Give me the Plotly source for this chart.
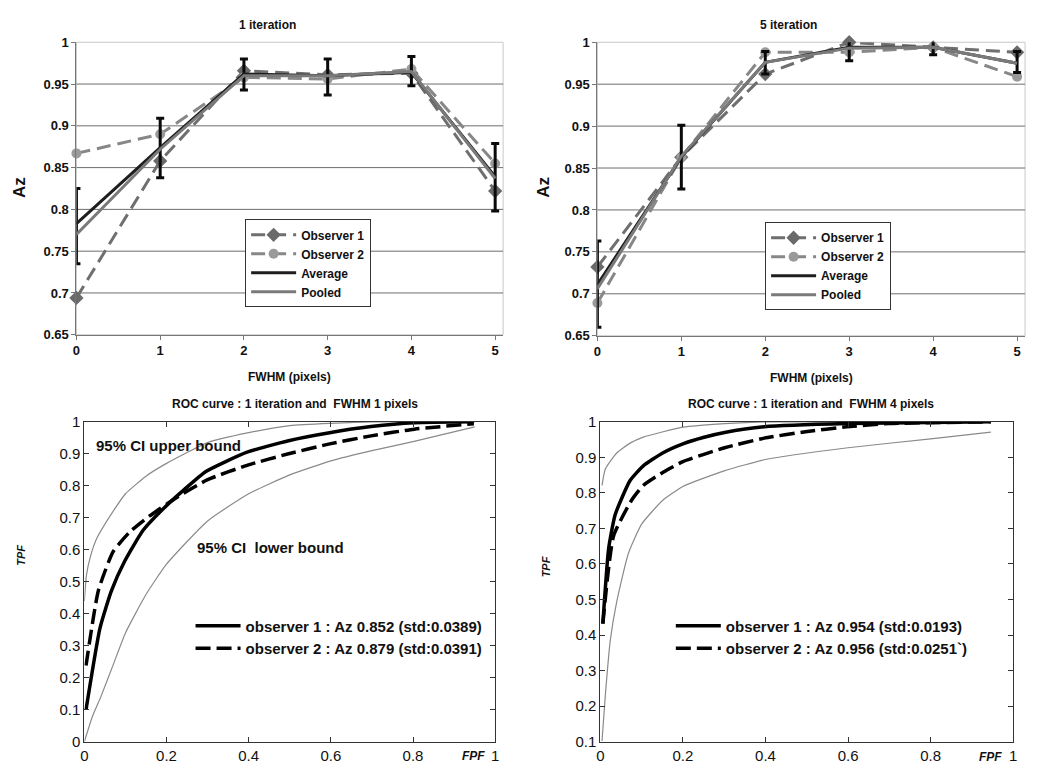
import plotly.graph_objects as go

W, H = 1038, 780

# ---------------- data ----------------
fwhm = [0, 1, 2, 3, 4, 5]

it1_obs1 = [0.694, 0.858, 0.966, 0.961, 0.963, 0.822]
it1_obs2 = [0.867, 0.890, 0.958, 0.956, 0.968, 0.855]
it1_avg = [0.783, 0.874, 0.962, 0.960, 0.964, 0.839]
it1_pooled = [0.770, 0.872, 0.960, 0.960, 0.965, 0.837]
it1_err_hi = [0.825, 0.909, 0.980, 0.980, 0.983, 0.879]
it1_err_lo = [0.735, 0.838, 0.943, 0.937, 0.948, 0.798]

it5_obs1 = [0.732, 0.863, 0.962, 1.000, 0.994, 0.988]
it5_obs2 = [0.689, 0.863, 0.988, 0.988, 0.994, 0.959]
it5_avg = [0.711, 0.863, 0.976, 0.994, 0.994, 0.975]
it5_pooled = [0.706, 0.864, 0.976, 0.993, 0.994, 0.975]
it5_err_hi = [0.763, 0.901, 0.989, 1.010, 1.003, 0.989]
it5_err_lo = [0.660, 0.825, 0.962, 0.978, 0.985, 0.964]

rocA_o1_fpf = [0.004, 0.038, 0.066, 0.098, 0.143, 0.199, 0.243, 0.295, 0.396, 0.497, 0.597, 0.698, 0.803, 0.948]
rocA_o1_tpf = [0.100, 0.355, 0.472, 0.564, 0.661, 0.737, 0.788, 0.844, 0.905, 0.941, 0.966, 0.985, 0.997, 1.000]
rocA_o2_fpf = [0.004, 0.034, 0.070, 0.110, 0.159, 0.223, 0.300, 0.396, 0.497, 0.597, 0.698, 0.803, 0.948]
rocA_o2_tpf = [0.238, 0.472, 0.594, 0.655, 0.706, 0.762, 0.819, 0.864, 0.900, 0.931, 0.956, 0.977, 0.994]
rocA_up_fpf = [0.000, 0.005, 0.015, 0.030, 0.050, 0.075, 0.100, 0.150, 0.200, 0.300, 0.400, 0.500, 0.700, 0.950]
rocA_up_tpf = [0.440, 0.520, 0.580, 0.635, 0.680, 0.730, 0.775, 0.830, 0.870, 0.935, 0.966, 0.988, 1.000, 1.000]
rocA_lo_fpf = [0.000, 0.020, 0.040, 0.070, 0.100, 0.150, 0.200, 0.300, 0.400, 0.500, 0.600, 0.700, 0.800, 0.950]
rocA_lo_tpf = [0.000, 0.080, 0.140, 0.240, 0.340, 0.460, 0.555, 0.690, 0.775, 0.834, 0.878, 0.910, 0.938, 0.984]

rocB_o1_fpf = [0.006, 0.020, 0.036, 0.072, 0.104, 0.152, 0.200, 0.249, 0.301, 0.397, 0.597, 0.946]
rocB_o1_tpf = [0.432, 0.643, 0.739, 0.835, 0.876, 0.913, 0.938, 0.956, 0.970, 0.986, 0.995, 1.000]
rocB_o2_fpf = [0.006, 0.032, 0.076, 0.104, 0.152, 0.200, 0.301, 0.397, 0.497, 0.597, 0.698, 0.946]
rocB_o2_tpf = [0.432, 0.679, 0.780, 0.821, 0.858, 0.888, 0.927, 0.954, 0.972, 0.986, 0.995, 1.000]
rocB_up_fpf = [0.004, 0.012, 0.040, 0.072, 0.104, 0.152, 0.200, 0.301, 0.397, 0.946]
rocB_up_tpf = [0.821, 0.867, 0.913, 0.940, 0.957, 0.972, 0.985, 0.995, 1.000, 1.000]
rocB_lo_fpf = [0.004, 0.012, 0.024, 0.040, 0.068, 0.100, 0.150, 0.200, 0.300, 0.400, 0.600, 0.800, 0.946]
rocB_lo_tpf = [0.102, 0.230, 0.385, 0.496, 0.630, 0.712, 0.778, 0.818, 0.862, 0.894, 0.927, 0.952, 0.971]

top_titles = ["1 iteration", "5 iteration"]
roc_titles = ["ROC curve : 1 iteration and \u00a0FWHM 1 pixels",
              "ROC curve : 1 iteration and \u00a0FWHM 4 pixels"]
rocA_labels = ["observer 1 : Az 0.852 (std:0.0389)", "observer 2 : Az 0.879 (std:0.0391)"]
rocB_labels = ["observer 1 : Az 0.954 (std:0.0193)", "observer 2 : Az 0.956 (std:0.0251`)"]
top_grid = [0.7, 0.75, 0.8, 0.85, 0.9, 0.95]

# ---------------- helpers ----------------
def px(x):
    return x / W

def py(y):
    return 1 - y / H

FONT = "Liberation Sans, Arial, sans-serif"
BOLD = dict(family=FONT, weight="bold", color="#111")

fig = go.Figure()

def add_top(obs1, obs2, avg, pooled, hi, lo, xs, ys, leg):
    fig.add_trace(go.Scatter(x=fwhm, y=obs1, name="Observer 1", mode="lines+markers",
                             line=dict(color="#6f6f6f", width=3, dash="14px,7px"),
                             marker=dict(symbol="diamond", size=11, color="#6a6a6a"),
                             xaxis=xs, yaxis=ys, legend=leg, cliponaxis=False))
    fig.add_trace(go.Scatter(x=fwhm, y=obs2, name="Observer 2", mode="lines+markers",
                             line=dict(color="#878787", width=3, dash="14px,7px"),
                             marker=dict(symbol="circle", size=10, color="#9a9a9a"),
                             xaxis=xs, yaxis=ys, legend=leg, cliponaxis=False))
    fig.add_trace(go.Scatter(x=fwhm, y=avg, name="Average", mode="lines",
                             line=dict(color="#1e1e1e", width=3),
                             error_y=dict(type="data", symmetric=False,
                                          array=[h - a for h, a in zip(hi, avg)],
                                          arrayminus=[a - l for l, a in zip(lo, avg)],
                                          color="#0a0a0a", thickness=3, width=4),
                             xaxis=xs, yaxis=ys, legend=leg, cliponaxis=False))
    fig.add_trace(go.Scatter(x=fwhm, y=pooled, name="Pooled", mode="lines",
                             line=dict(color="#7a7a7a", width=3),
                             xaxis=xs, yaxis=ys, legend=leg, cliponaxis=False))

add_top(it1_obs1, it1_obs2, it1_avg, it1_pooled, it1_err_hi, it1_err_lo, "x", "y", "legend")
add_top(it5_obs1, it5_obs2, it5_avg, it5_pooled, it5_err_hi, it5_err_lo, "x2", "y2", "legend2")

def add_roc(o1x, o1y, o2x, o2y, upx, upy, lox, loy, xs, ys, leg, labels):
    for cx, cy in [(upx, upy), (lox, loy)]:
        fig.add_trace(go.Scatter(x=cx, y=cy, mode="lines", showlegend=False,
                                 line=dict(color="#8a8a8a", width=1.2, shape="spline", smoothing=0.5),
                                 xaxis=xs, yaxis=ys))
    fig.add_trace(go.Scatter(x=o1x, y=o1y, mode="lines", name=labels[0],
                             line=dict(color="#000", width=3.5, shape="spline", smoothing=0.5),
                             xaxis=xs, yaxis=ys, legend=leg))
    fig.add_trace(go.Scatter(x=o2x, y=o2y, mode="lines", name=labels[1],
                             line=dict(color="#000", width=3.5, dash="15px,6px", shape="spline", smoothing=0.5),
                             xaxis=xs, yaxis=ys, legend=leg))

add_roc(rocA_o1_fpf, rocA_o1_tpf, rocA_o2_fpf, rocA_o2_tpf, rocA_up_fpf, rocA_up_tpf,
        rocA_lo_fpf, rocA_lo_tpf, "x3", "y3", "legend3", rocA_labels)
add_roc(rocB_o1_fpf, rocB_o1_tpf, rocB_o2_fpf, rocB_o2_tpf, rocB_up_fpf, rocB_up_tpf,
        rocB_lo_fpf, rocB_lo_tpf, "x4", "y4", "legend4", rocB_labels)

# ---------------- axes ----------------
top_x = dict(range=[0, 5.095], tickvals=fwhm, ticks="outside", ticklen=4, tickcolor="#777",
             showline=True, linecolor="#777", linewidth=1, showgrid=False, zeroline=False,
             tickfont=dict(size=13, **BOLD), fixedrange=True)
top_y = dict(range=[0.65, 1.0], ticks="outside", ticklen=4, tickcolor="#777",
             showline=True, linecolor="#777", linewidth=1, showgrid=False,
             zeroline=False, tickfont=dict(size=13, **BOLD), fixedrange=True,
             tickvals=[0.65, 0.7, 0.75, 0.8, 0.85, 0.9, 0.95, 1.0],
             ticktext=["0.65", "0.7", "0.75", "0.8", "0.85", "0.9", "0.95", "1"])

roc_tick = dict(family=FONT, size=15, color="#111")
roc_x = dict(range=[0, 1], tickvals=[0, 0.2, 0.4, 0.6, 0.8, 1], ticktext=["0", "0.2", "0.4", "0.6", "0.8", "1"],
             ticks="inside", ticklen=5, tickcolor="#333", showline=True, linecolor="#333", linewidth=1,
             mirror="ticks", showgrid=False, zeroline=False, tickfont=roc_tick, fixedrange=True)
roc_y_common = dict(ticks="inside", ticklen=5, tickcolor="#333", showline=True, linecolor="#333",
                    linewidth=1, mirror="ticks", showgrid=False, zeroline=False, tickfont=roc_tick,
                    fixedrange=True)

fig.update_layout(
    width=W, height=H, paper_bgcolor="white", plot_bgcolor="white",
    margin=dict(l=0, r=0, t=0, b=0), showlegend=True,
    xaxis=dict(domain=[px(73), px(503)], anchor="y", **top_x),
    yaxis=dict(domain=[py(333), py(34)], anchor="x", **top_y),
    xaxis2=dict(domain=[px(598), px(1029)], anchor="y2", **top_x),
    yaxis2=dict(domain=[py(334), py(34)], anchor="x2", **top_y),
    xaxis3=dict(domain=[px(81), px(495)], anchor="y3", **roc_x),
    yaxis3=dict(domain=[py(749), py(422)], anchor="x3", range=[0, 1],
                tickvals=[0, 0.1, 0.2, 0.3, 0.4, 0.5, 0.6, 0.7, 0.8, 0.9, 1],
                ticktext=["0", "0.1", "0.2", "0.3", "0.4", "0.5", "0.6", "0.7", "0.8", "0.9", "1"],
                **roc_y_common),
    xaxis4=dict(domain=[px(601), px(1017)], anchor="y4", **roc_x),
    yaxis4=dict(domain=[py(749), py(422)], anchor="x4", range=[0.1, 1],
                tickvals=[0.1, 0.2, 0.3, 0.4, 0.5, 0.6, 0.7, 0.8, 0.9, 1],
                ticktext=["0.1", "0.2", "0.3", "0.4", "0.5", "0.6", "0.7", "0.8", "0.9", "1"],
                **roc_y_common),
)

top_leg = dict(bgcolor="white", bordercolor="#333", borderwidth=1, font=dict(size=12, **BOLD),
               xanchor="left", yanchor="top", tracegroupgap=0, itemwidth=45,
               itemclick=False, itemdoubleclick=False)
bot_leg = dict(bgcolor="rgba(0,0,0,0)", borderwidth=0, font=dict(size=15, **BOLD),
               xanchor="left", yanchor="top", itemwidth=45, itemclick=False, itemdoubleclick=False)
fig.update_layout(
    legend=dict(x=px(243), y=py(215), **top_leg),
    legend2=dict(x=px(767), y=py(218), **top_leg),
    legend3=dict(x=px(188), y=py(614), **bot_leg),
    legend4=dict(x=px(672), y=py(614), **bot_leg),
)

# Excel-style plot-area frame (light) and horizontal gridlines (dark)
for xs, ys in [("x", "y"), ("x2", "y2")]:
    fig.add_shape(type="rect", xref=f"{xs} domain", yref=f"{ys} domain", x0=0, x1=1, y0=0, y1=1,
                  line=dict(color="#c8c8c8", width=1), layer="below")
    for g in top_grid:
        fig.add_shape(type="line", xref=f"{xs} domain", yref=ys, x0=0, x1=1, y0=g, y1=g,
                      line=dict(color="#6e6e6e", width=1), layer="below")

def ann(text, x, y, size, rot=0, italic=False, bold=True, xanchor="center"):
    f = dict(family=FONT, size=size, color="#111")
    if bold:
        f["weight"] = "bold"
    if italic:
        f["style"] = "italic"
    fig.add_annotation(text=text, x=px(x), y=py(y), xref="paper", yref="paper", showarrow=False,
                       font=f, textangle=rot, xanchor=xanchor, yanchor="middle")

ann(top_titles[0], 266, 16, 12)
ann(top_titles[1], 791, 16, 12)
ann("FWHM (pixels)", 288, 376, 12)
ann("FWHM (pixels)", 814, 377, 12)
ann("Az", 15, 182, 17, rot=-90)
ann("Az", 543, 182, 17, rot=-90)
ann(roc_titles[0], 293, 404, 12)
ann(roc_titles[1], 813, 404, 12)
ann("TPF", 17, 558, 11, rot=-90, italic=True)
ann("TPF", 546, 570, 11, rot=-90, italic=True)
ann("FPF", 473, 764, 12, italic=True)
ann("FPF", 994, 765, 12, italic=True)
ann("95% CI upper bound", 91, 446, 15, xanchor="left")
ann("95% CI \u00a0lower bound", 192, 551, 15, xanchor="left")

fig.write_html("out.html", config={"displayModeBar": False},
               post_script="document.body.style.margin='0';document.body.style.overflow='hidden';")
